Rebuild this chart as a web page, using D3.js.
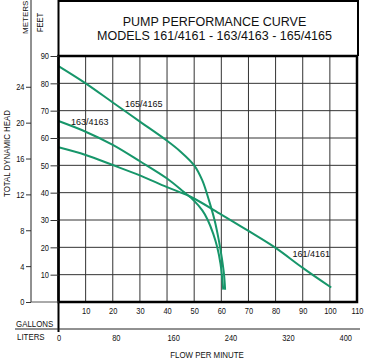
<!DOCTYPE html>
<html><head><meta charset="utf-8">
<script src="https://cdn.jsdelivr.net/npm/d3@7"></script>
<style>
html,body{margin:0;padding:0;background:#fff;}
svg{display:block;}
text{font-family:"Liberation Sans",Arial,sans-serif;fill:#111;}
</style></head>
<body>
<svg id="chart" width="365" height="360"></svg>
<script>
// ---- data ----
const titleLines = ["PUMP PERFORMANCE CURVE", "MODELS 161/4161 - 163/4163 - 165/4165"];
const feetTicks = [10,20,30,40,50,60,70,80,90];
const meterTicks = [0,4,8,12,16,20,24];
const gallonTicks = [10,20,30,40,50,60,70,80,90,100,110];
const literTicks = [0,80,160,240,320,400];
const seriesNames = ["161/4161","163/4163","165/4165"];
const gpm161 = [0,10,20,30,40,48.5,60,70,80,90,100.5];
const ft161  = [56.6,53.8,50.1,46.3,42,38.6,32,26,19.8,12.5,5.3];
const gpm163 = [0,10,20,30,40,46,50,53,55,57,58.5,59.7,60.3,60.7];
const ft163  = [66.2,62.3,57.5,51.5,45.2,40.4,37,33.5,30,25,20,14,9,4.5];
const gpm165 = [0,10,20,30,40,45,50,53,55.5,57.5,59,60.2,61,61.4];
const ft165  = [86.3,80,73,66,59,55,50,44.5,37,30,23,16,10,4.5];
const labelPos = [[86.2,16.3],[4.6,64.8],[24.5,71.4]]; // [gpm, ft] anchors of curve labels

const FT_PER_M = 3.28084, L_PER_GAL = 3.78541;
const svg = d3.select("#chart");
const x = d3.scaleLinear().domain([0,110]).range([58.5,357]);
const y = d3.scaleLinear().domain([0,90]).range([302,56]);
const yM = d3.scaleLinear().domain([0,90/FT_PER_M]).range([302,56]);
const xL = d3.scaleLinear().domain([0,110*L_PER_GAL]).range([58.5,357]);
const green = "#17966a";

// condensed look: squeeze text horizontally
function squeeze(sel, f){
  sel.each(function(){
    const L = this.getComputedTextLength();
    d3.select(this).attr("textLength", L*f).attr("lengthAdjust","spacingAndGlyphs");
  });
}

// grid
const g = svg.append("g");
g.selectAll(".vg").data(gallonTicks.filter(d=>d<110)).join("line")
  .attr("x1",d=>x(d)).attr("x2",d=>x(d)).attr("y1",y(90)).attr("y2",y(0))
  .attr("stroke","#333").attr("stroke-width",1);
g.selectAll(".hg").data(feetTicks.filter(d=>d<90)).join("line")
  .attr("x1",x(0)).attr("x2",x(110)).attr("y1",d=>y(d)).attr("y2",d=>y(d))
  .attr("stroke","#333").attr("stroke-width",1);

// curves
const series = [[gpm161,ft161],[gpm163,ft163],[gpm165,ft165]];
const line = d3.line().x(d=>x(d[0])).y(d=>y(d[1])).curve(d3.curveCatmullRom.alpha(0.5));
series.forEach(([gx,fy])=>{
  svg.append("path").attr("d", line(gx.map((v,i)=>[v,fy[i]])))
    .attr("fill","none").attr("stroke",green).attr("stroke-width",2);
});
seriesNames.forEach((n,i)=>{
  svg.append("text").attr("x",x(labelPos[i][0])).attr("y",y(labelPos[i][1]))
    .attr("font-size",9).text(n);
});

// frames
svg.append("rect").attr("x",x(0)).attr("y",y(90)).attr("width",x(110)-x(0)).attr("height",y(0)-y(90))
  .attr("fill","none").attr("stroke","#000").attr("stroke-width",2.5);
svg.append("line").attr("x1",x(0)).attr("x2",x(0)).attr("y1",0).attr("y2",332).attr("stroke","#000").attr("stroke-width",2);
svg.append("line").attr("x1",x(0)).attr("x2",359).attr("y1",1).attr("y2",1).attr("stroke","#000").attr("stroke-width",2);
svg.append("line").attr("x1",358).attr("x2",358).attr("y1",0).attr("y2",y(90)).attr("stroke","#000").attr("stroke-width",2);
// title
titleLines.forEach((t,i)=>{
  svg.append("text").attr("x",214.5).attr("y",i===0?25.7:39.7).attr("text-anchor","middle")
    .attr("font-size",12.5).text(t);
});

// feet axis
const feetAxis = d3.axisLeft(y).tickValues(feetTicks).tickSize(8).tickPadding(1.5);
svg.append("g").attr("transform",`translate(${x(0)},0)`).call(feetAxis)
  .call(a=>a.select(".domain").remove())
  .call(a=>a.selectAll("line").attr("stroke","#333"))
  .call(a=>a.selectAll("text").attr("font-size",9).attr("font-family",null).attr("fill","#111").classed("sq",true));
// meters axis
const mAxis = d3.axisLeft(yM).tickValues(meterTicks).tickSize(5).tickPadding(1.5);
svg.append("g").attr("transform","translate(31,0)").call(mAxis)
  .call(a=>a.select(".domain").remove())
  .call(a=>a.selectAll("line").attr("stroke","#333"))
  .call(a=>a.selectAll("text").attr("font-size",9).attr("font-family",null).attr("fill","#111").classed("sq",true));
svg.append("line").attr("x1",31).attr("x2",31).attr("y1",0).attr("y2",302).attr("stroke","#222").attr("stroke-width",1);
svg.append("line").attr("x1",31).attr("x2",x(0)).attr("y1",302).attr("y2",302).attr("stroke","#555").attr("stroke-width",1);

// gallons axis
const gAxis = d3.axisBottom(x).tickValues(gallonTicks).tickSize(0).tickPadding(6);
svg.append("g").attr("transform",`translate(0,${y(0)})`).call(gAxis)
  .call(a=>a.select(".domain").remove())
  .call(a=>a.selectAll("text").attr("font-size",9).attr("font-family",null).attr("fill","#111").classed("sq",true));
// liters axis
const lAxis = d3.axisBottom(xL).tickValues(literTicks).tickSize(0).tickPadding(5.5);
svg.append("g").attr("transform","translate(0,329)").call(lAxis)
  .call(a=>a.select(".domain").remove())
  .call(a=>a.selectAll("text").attr("font-size",9).attr("font-family",null).attr("fill","#111").classed("sq",true));
svg.append("line").attr("x1",15).attr("x2",360).attr("y1",329).attr("y2",329).attr("stroke","#222").attr("stroke-width",1);

// axis titles
svg.append("text").attr("class","sq").attr("x",16).attr("y",326.5).attr("font-size",9.5).text("GALLONS");
svg.append("text").attr("class","sq").attr("x",17).attr("y",339.5).attr("font-size",9.5).text("LITERS");
svg.append("text").attr("class","sq").attr("x",207).attr("y",357.5).attr("text-anchor","middle").attr("font-size",9.5).text("FLOW PER MINUTE");
svg.append("text").attr("class","sq").attr("transform","translate(10,153.5) rotate(-90)").attr("text-anchor","middle").attr("font-size",9.5).text("TOTAL DYNAMIC HEAD");
svg.append("text").attr("transform","translate(28.3,34) rotate(-90)").attr("font-size",8).text("METERS");
svg.append("text").attr("class","sq").attr("transform","translate(43.3,32) rotate(-90)").attr("font-size",9).text("FEET");
squeeze(svg.selectAll("text.sq"), 0.83);
</script>
</body></html>
